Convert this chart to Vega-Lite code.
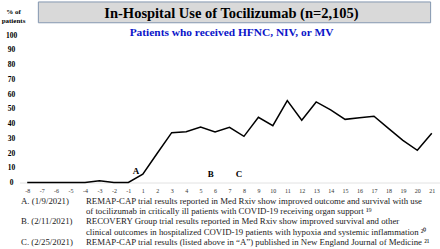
{
  "$schema": "https://vega.github.io/schema/vega-lite/v6.json",
  "width": 419,
  "height": 147.5,
  "autosize": {"type": "none"},
  "padding": {"left": 20, "top": 35, "right": 1, "bottom": 66.5},
  "background": "white",
  "config": {"view": {"stroke": null}, "font": "Liberation Serif"},
  "title": {
    "text": "In-Hospital Use of Tocilizumab (n=2,105)",
    "subtitle": "Patients who received HFNC, NIV, or MV",
    "font": "Liberation Serif",
    "fontSize": 14.5,
    "fontWeight": "bold",
    "color": "black",
    "subtitleFont": "Liberation Serif",
    "subtitleFontSize": 11.4,
    "subtitleFontWeight": "bold",
    "subtitleColor": "#0b15c9",
    "subtitlePadding": 5.5,
    "anchor": "middle",
    "frame": "group",
    "offset": -38,
    "dx": 2
  },
  "datasets": {
    "tocilizumab": [
      {"week": "-8", "pct": 0},
      {"week": "-7", "pct": 0},
      {"week": "-6", "pct": 0},
      {"week": "-5", "pct": 0},
      {"week": "-4", "pct": 0},
      {"week": "-3", "pct": 1.2},
      {"week": "-2", "pct": 0},
      {"week": "-1", "pct": 0},
      {"week": "1", "pct": 5.6},
      {"week": "2", "pct": 19.8},
      {"week": "3", "pct": 33.8},
      {"week": "4", "pct": 34.4},
      {"week": "5", "pct": 37.6},
      {"week": "6", "pct": 34.2},
      {"week": "7", "pct": 37.4},
      {"week": "8", "pct": 31.3},
      {"week": "9", "pct": 44.2},
      {"week": "10", "pct": 38.5},
      {"week": "11", "pct": 55.5},
      {"week": "12", "pct": 42.2},
      {"week": "13", "pct": 54.6},
      {"week": "14", "pct": 49.2},
      {"week": "15", "pct": 42.8},
      {"week": "16", "pct": 43.9},
      {"week": "17", "pct": 44.9},
      {"week": "18", "pct": 36.7},
      {"week": "19", "pct": 28.6},
      {"week": "20", "pct": 21.8},
      {"week": "21", "pct": 33.4}
    ],
    "box": [
      {"x0": 1.27, "x1": 28.42, "y0": 108.3, "y1": 122.4}
    ],
    "events": [
      {"label": "A", "x": 8.02, "y": 8.0},
      {"label": "B", "x": 13.2, "y": 5.8},
      {"label": "C", "x": 15.15, "y": 5.8}
    ],
    "notes": [
      {"line": 0, "label": "A. (1/9/2021)", "text": "REMAP-CAP trial results reported in Med Rxiv show improved outcome and survival with use"},
      {"line": 1, "label": "", "text": "of tocilizumab in critically ill patients with COVID-19 receiving organ support ¹⁹"},
      {"line": 2, "label": "B. (2/11/2021)", "text": "RECOVERY Group trial results reported in Med Rxiv show improved survival and other"},
      {"line": 3, "label": "", "text": "clinical outcomes in hospitalized COVID-19 patients with hypoxia and systemic inflammation ²⁰"},
      {"line": 4, "label": "C. (2/25/2021)", "text": "REMAP-CAP trial results (listed above in “A”) published in New England Journal of Medicine ²¹"}
    ]
  },
  "resolve": {"scale": {"x": "independent", "y": "independent"}},
  "layer": [
    {
      "data": {"name": "box"},
      "mark": {"type": "rect", "fill": "#d9d9d9", "stroke": "#8497b0", "strokeWidth": 1},
      "encoding": {
        "x": {"field": "x0", "type": "quantitative", "scale": {"domain": [0, 29], "nice": false, "zero": false}, "axis": null},
        "x2": {"field": "x1"},
        "y": {"field": "y0", "type": "quantitative", "scale": {"domain": [0, 100], "nice": false, "zero": false}, "axis": null},
        "y2": {"field": "y1"}
      }
    },
    {
      "data": {"name": "tocilizumab"},
      "mark": {"type": "line", "color": "black", "strokeWidth": 1.5},
      "encoding": {
        "x": {
          "field": "week", "type": "nominal", "sort": null,
          "scale": {"type": "point", "padding": 0.5},
          "axis": {
            "title": null, "labelAngle": 0, "labelFont": "Liberation Serif", "labelFontSize": 6,
            "labelColor": "#333333", "ticks": false, "tickSize": 0, "labelPadding": 5,
            "domainColor": "#c4c4c4", "domainDash": [1, 1], "domainWidth": 1, "grid": false
          }
        },
        "y": {
          "field": "pct", "type": "quantitative",
          "scale": {"domain": [0, 100], "nice": false, "zero": false},
          "axis": {
            "values": [0, 10, 20, 30, 40, 50, 60, 70, 80, 90, 100],
            "title": ["% of", "patients"], "titleAngle": 0, "titleX": -7, "titleY": -27.5,
            "titleBaseline": "top", "titleAlign": "center", "titleFontSize": 7, "titleFontWeight": "bold",
            "titleFont": "Liberation Serif", "titleLineHeight": 9, "titleColor": "black",
            "labelFont": "Liberation Serif", "labelFontSize": 7.5, "labelFontWeight": "bold",
            "labelColor": "black", "labelAlign": "center", "labelPadding": 9,
            "ticks": false, "tickSize": 0, "domain": false, "grid": false
          }
        }
      }
    },
    {
      "data": {"name": "events"},
      "mark": {"type": "text", "fontWeight": "bold", "fontSize": 9, "font": "Liberation Serif", "color": "black", "baseline": "middle", "align": "center"},
      "encoding": {
        "x": {"field": "x", "type": "quantitative", "scale": {"domain": [0, 29], "nice": false, "zero": false}, "axis": null},
        "y": {"field": "y", "type": "quantitative", "scale": {"domain": [0, 100], "nice": false, "zero": false}, "axis": null},
        "text": {"field": "label"}
      }
    },
    {
      "data": {"name": "notes"},
      "mark": {"type": "text", "fontSize": 8.8, "font": "Liberation Serif", "color": "#222222", "baseline": "middle", "align": "left"},
      "encoding": {
        "x": {"datum": 0.07, "type": "quantitative", "scale": {"domain": [0, 29], "nice": false, "zero": false}, "axis": null},
        "y": {"field": "line", "type": "quantitative", "scale": {"domain": [-16.2, -1.8], "reverse": true, "nice": false, "zero": false}, "axis": null},
        "text": {"field": "label"}
      }
    },
    {
      "data": {"name": "notes"},
      "mark": {"type": "text", "fontSize": 8.8, "font": "Liberation Serif", "color": "#222222", "baseline": "middle", "align": "left"},
      "encoding": {
        "x": {"datum": 4.56, "type": "quantitative", "scale": {"domain": [0, 29], "nice": false, "zero": false}, "axis": null},
        "y": {"field": "line", "type": "quantitative", "scale": {"domain": [-16.2, -1.8], "reverse": true, "nice": false, "zero": false}, "axis": null},
        "text": {"field": "text"}
      }
    }
  ]
}
